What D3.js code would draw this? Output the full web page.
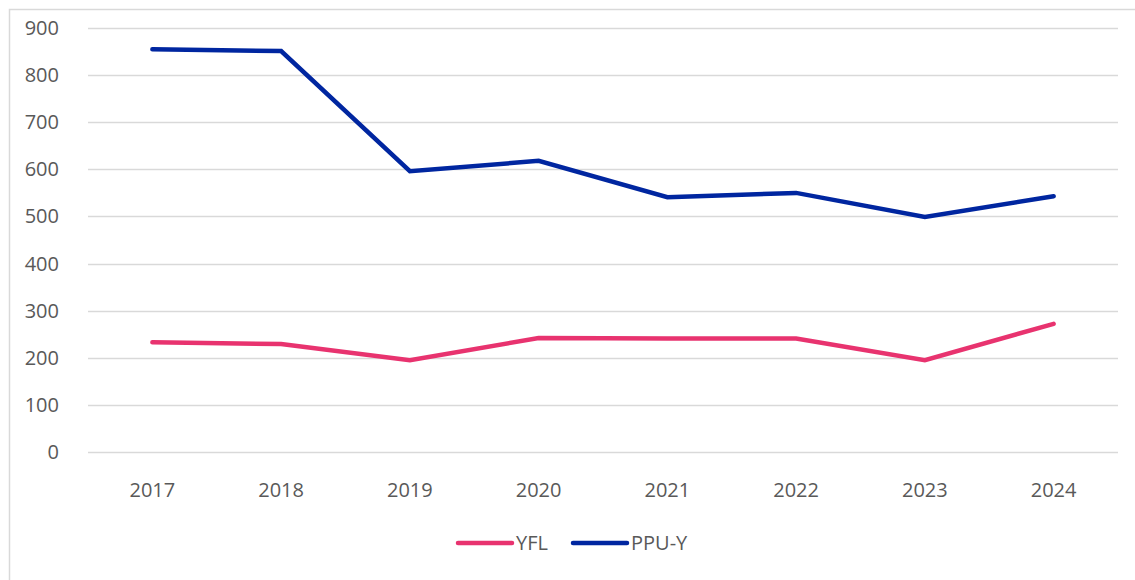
<!DOCTYPE html>
<html>
<head>
<meta charset="utf-8">
<script src="https://cdn.jsdelivr.net/npm/d3@7"></script>
<style>
  body { margin: 0; background: #fff; }
  text { font-family: "Open Sans", "Noto Sans", sans-serif; fill: #595959; }
</style>
</head>
<body>
<script>
// chart data
const years = ["2017", "2018", "2019", "2020", "2021", "2022", "2023", "2024"];
const yfl = [233, 229, 195, 242, 241, 241, 195, 272];
const ppuY = [855, 851, 596, 618, 541, 550, 499, 543];
const yTicks = [0, 100, 200, 300, 400, 500, 600, 700, 800, 900];

const series = [
  { name: "YFL", values: yfl, color: "#E8336F" },
  { name: "PPU-Y", values: ppuY, color: "#0026A0" }
];

const width = 1135;
const height = 580;
const margin = { top: 28, right: 17, bottom: 128, left: 88 };

const svg = d3.select('body')
  .append('svg')
  .attr('width', width)
  .attr('height', height);

// chart frame (runs past the right edge)
svg.append('rect')
  .attr('x', 9.5)
  .attr('y', 9.5)
  .attr('width', width + 20)
  .attr('height', height + 20)
  .attr('fill', 'none')
  .attr('stroke', '#d9d9d9')
  .attr('stroke-width', 1.5);

const x = d3.scalePoint()
  .domain(years)
  .range([margin.left, width - margin.right])
  .padding(0.5);

const y = d3.scaleLinear()
  .domain([0, 900])
  .range([height - margin.bottom, margin.top]);

// grid lines
svg.append('g')
  .selectAll('line')
  .data(yTicks)
  .enter()
  .append('line')
  .attr('x1', margin.left)
  .attr('x2', width - margin.right)
  .attr('y1', (d) => Math.round(y(d)) + 0.5)
  .attr('y2', (d) => Math.round(y(d)) + 0.5)
  .attr('stroke', '#d9d9d9')
  .attr('stroke-width', 1.5);

// y labels
svg.append('g')
  .selectAll('text')
  .data(yTicks)
  .enter()
  .append('text')
  .attr('x', 59)
  .attr('y', (d) => y(d))
  .attr('dy', '0.35em')
  .attr('text-anchor', 'end')
  .style('font-size', '20px')
  .text((d) => d);

// x labels
svg.append('g')
  .selectAll('text')
  .data(years)
  .enter()
  .append('text')
  .attr('x', (d) => x(d))
  .attr('y', 490)
  .attr('dy', '0.35em')
  .attr('text-anchor', 'middle')
  .style('font-size', '20px')
  .text((d) => d);

const line = d3.line()
  .x((d, i) => x(years[i]))
  .y((d) => y(d));

svg.append('g')
  .selectAll('path')
  .data(series)
  .enter()
  .append('path')
  .attr('d', (d) => line(d.values))
  .attr('fill', 'none')
  .attr('stroke', (d) => d.color)
  .attr('stroke-width', 4.5)
  .attr('stroke-linecap', 'round')
  .attr('stroke-linejoin', 'miter');

// legend
const legendPos = [458, 573];
const legend = svg.append('g')
  .selectAll('g')
  .data(series)
  .enter()
  .append('g')
  .attr('transform', (d, i) => `translate(${legendPos[i]},543)`);

legend.append('line')
  .attr('x1', 0)
  .attr('x2', 54)
  .attr('stroke', (d) => d.color)
  .attr('stroke-width', 4.5)
  .attr('stroke-linecap', 'round');

legend.append('text')
  .attr('x', 58)
  .attr('dy', '0.35em')
  .style('font-size', '20px')
  .text((d) => d.name);
</script>
</body>
</html>
